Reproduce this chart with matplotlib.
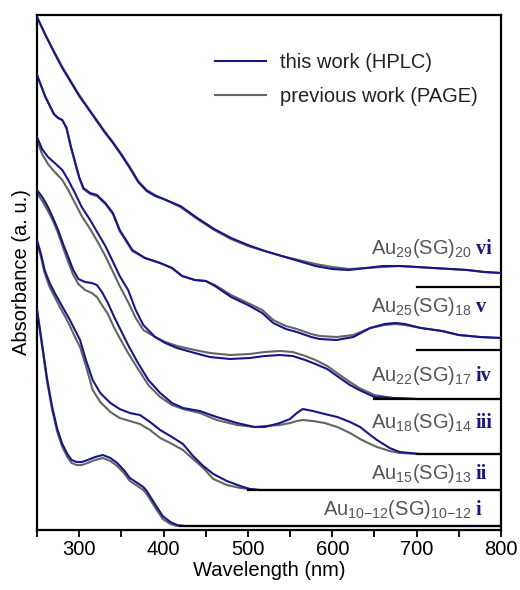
import matplotlib
matplotlib.use('Agg')
import matplotlib.pyplot as plt
from matplotlib.ticker import MultipleLocator

plt.rcParams['font.family'] = ['Liberation Sans', 'DejaVu Sans']
plt.rcParams['mathtext.fontset'] = 'custom'
plt.rcParams['mathtext.rm'] = 'Liberation Sans'
plt.rcParams['mathtext.it'] = 'Liberation Sans'
plt.rcParams['mathtext.default'] = 'regular'

BLUE = '#16168a'
GREY = '#646464'

# ---- spectra (absorbance above each baseline) ----
# vi  Au29(SG)20
wl_vi = [250, 260, 270, 280, 290, 300, 310, 320, 330, 340, 350, 360, 370, 380, 390, 400,
         420, 440, 460, 480, 500, 520, 540, 560, 580, 600, 620, 640, 660, 680, 700, 720,
         740, 760, 780, 800]
hplc_vi = [2.70, 2.52, 2.35, 2.19, 2.05, 1.91, 1.79, 1.67, 1.55, 1.44, 1.32, 1.19, 1.05,
           0.96, 0.91, 0.88, 0.81, 0.69, 0.58, 0.49, 0.42, 0.36, 0.31, 0.26, 0.21, 0.18,
           0.17, 0.19, 0.21, 0.21, 0.20, 0.19, 0.18, 0.17, 0.15, 0.14]
page_vi = [2.70, 2.52, 2.36, 2.20, 2.06, 1.92, 1.80, 1.68, 1.56, 1.45, 1.33, 1.20, 1.06,
           0.97, 0.92, 0.88, 0.80, 0.68, 0.57, 0.48, 0.41, 0.36, 0.31, 0.27, 0.23, 0.20,
           0.18, 0.19, 0.20, 0.21, 0.20, 0.19, 0.18, 0.17, 0.15, 0.14]

# v  Au25(SG)18
wl_v = [250, 260, 270, 275, 280, 285, 290, 300, 305, 313, 321, 331, 340, 348, 363, 378,
        396, 410, 422, 437, 450, 461, 480, 500, 517, 530, 545, 558, 575, 585, 605, 625,
        645, 662, 675, 686, 705, 730, 750, 775, 800]
hplc_v = [2.75, 2.53, 2.36, 2.32, 2.30, 2.22, 2.04, 1.73, 1.62, 1.57, 1.55, 1.47, 1.37,
          1.20, 1.00, 0.92, 0.87, 0.82, 0.74, 0.70, 0.69, 0.64, 0.53, 0.45, 0.37, 0.27,
          0.21, 0.18, 0.13, 0.11, 0.10, 0.13, 0.22, 0.26, 0.27, 0.26, 0.22, 0.19, 0.15,
          0.13, 0.12]
page_v = [2.75, 2.53, 2.36, 2.32, 2.30, 2.22, 2.03, 1.72, 1.61, 1.56, 1.54, 1.46, 1.36,
          1.19, 0.99, 0.92, 0.87, 0.82, 0.74, 0.70, 0.69, 0.65, 0.55, 0.47, 0.40, 0.30,
          0.24, 0.21, 0.16, 0.14, 0.13, 0.15, 0.22, 0.25, 0.26, 0.25, 0.22, 0.19, 0.15,
          0.13, 0.12]

# iv  Au22(SG)17
wl_iv = [250, 256, 263, 271, 280, 287, 295, 303, 313, 322, 331, 339, 348, 358, 367, 376,
         390, 402, 416, 437, 455, 479, 502, 520, 538, 553, 568, 580, 594, 609, 621, 632,
         650, 672, 700, 800]
hplc_iv = [2.62, 2.50, 2.42, 2.36, 2.29, 2.19, 2.06, 1.92, 1.79, 1.66, 1.53, 1.39, 1.23,
           1.09, 0.89, 0.74, 0.62, 0.56, 0.51, 0.46, 0.42, 0.40, 0.41, 0.43, 0.44, 0.43,
           0.39, 0.35, 0.30, 0.21, 0.14, 0.09, 0.02, 0.01, 0.00, 0.00]
page_iv = [2.59, 2.45, 2.35, 2.27, 2.19, 2.09, 1.96, 1.83, 1.70, 1.57, 1.43, 1.29, 1.13,
           0.97, 0.81, 0.69, 0.62, 0.57, 0.53, 0.49, 0.46, 0.44, 0.45, 0.47, 0.48, 0.47,
           0.43, 0.39, 0.33, 0.24, 0.17, 0.11, 0.04, 0.01, 0.00, 0.00]

# iii  Au18(SG)14
wl_iii = [250, 257, 263, 269, 275, 281, 287, 293, 299, 307, 315, 321, 327, 334, 341, 348,
          358, 369, 382, 396, 410, 423, 443, 463, 487, 508, 520, 538, 550, 558, 565, 577,
          591, 606, 621, 633, 645, 653, 668, 680, 704, 800]
hplc_iii = [2.64, 2.56, 2.47, 2.36, 2.24, 2.10, 1.97, 1.84, 1.75, 1.72, 1.71, 1.69, 1.62,
            1.51, 1.38, 1.26, 1.09, 0.92, 0.74, 0.61, 0.51, 0.46, 0.43, 0.37, 0.31, 0.27,
            0.27, 0.31, 0.35, 0.41, 0.45, 0.43, 0.40, 0.37, 0.32, 0.27, 0.19, 0.14, 0.06,
            0.02, 0.00, 0.00]
page_iii = [2.61, 2.52, 2.43, 2.33, 2.21, 2.06, 1.92, 1.79, 1.70, 1.64, 1.61, 1.57, 1.49,
            1.40, 1.27, 1.16, 1.01, 0.86, 0.69, 0.57, 0.49, 0.45, 0.41, 0.34, 0.29, 0.27,
            0.28, 0.29, 0.31, 0.33, 0.34, 0.33, 0.31, 0.27, 0.21, 0.15, 0.10, 0.07, 0.03,
            0.01, 0.00, 0.00]

# ii  Au15(SG)13
wl_ii = [250, 255, 259, 265, 271, 277, 283, 289, 295, 301, 308, 316, 325, 337, 348, 360,
         372, 384, 396, 408, 423, 435, 447, 459, 475, 491, 502, 514, 800]
hplc_ii = [2.50, 2.35, 2.20, 2.07, 1.97, 1.88, 1.79, 1.70, 1.60, 1.50, 1.30, 1.10, 0.97,
           0.87, 0.81, 0.77, 0.75, 0.68, 0.60, 0.54, 0.46, 0.34, 0.24, 0.16, 0.09, 0.04,
           0.01, 0.00, 0.00]
page_ii = [2.48, 2.32, 2.17, 2.03, 1.93, 1.83, 1.74, 1.64, 1.53, 1.43, 1.24, 1.00, 0.88,
           0.78, 0.72, 0.69, 0.66, 0.60, 0.52, 0.47, 0.40, 0.31, 0.22, 0.11, 0.05, 0.02,
           0.01, 0.00, 0.00]

# i  Au10-12(SG)10-12
wl_i = [250, 256, 262, 268, 274, 280, 286, 291, 297, 303, 310, 319, 328, 337, 345, 353,
        360, 369, 376, 380, 386, 392, 399, 408, 416, 425, 800]
hplc_i = [2.17, 1.82, 1.47, 1.19, 0.97, 0.82, 0.72, 0.66, 0.64, 0.64, 0.66, 0.69, 0.71,
          0.68, 0.63, 0.56, 0.48, 0.43, 0.39, 0.35, 0.27, 0.19, 0.10, 0.04, 0.01, 0.00, 0.00]
page_i = [2.15, 1.80, 1.44, 1.16, 0.94, 0.79, 0.69, 0.63, 0.61, 0.61, 0.63, 0.66, 0.68,
          0.65, 0.60, 0.53, 0.45, 0.40, 0.36, 0.32, 0.24, 0.16, 0.07, 0.02, 0.00, 0.00, 0.00]

# vertical offsets of each spectrum and where its baseline marker starts
offsets = [0.04, 0.40, 0.76, 1.31, 1.80, 2.43]
base_start = [420, 500, 700, 650, 700, 700]
formulas = ['Au$_{10{-}12}$(SG)$_{10{-}12}$', 'Au$_{15}$(SG)$_{13}$', 'Au$_{18}$(SG)$_{14}$',
            'Au$_{22}$(SG)$_{17}$', 'Au$_{25}$(SG)$_{18}$', 'Au$_{29}$(SG)$_{20}$']
numerals = ['i', 'ii', 'iii', 'iv', 'v', 'vi']
label_y = [0.15, 0.51, 1.02, 1.49, 2.18, 2.76]

spectra = [(wl_i, hplc_i, page_i), (wl_ii, hplc_ii, page_ii), (wl_iii, hplc_iii, page_iii),
           (wl_iv, hplc_iv, page_iv), (wl_v, hplc_v, page_v), (wl_vi, hplc_vi, page_vi)]

fig = plt.figure(figsize=(5.2, 5.9), dpi=100)
ax = fig.add_axes([37 / 520, 60 / 590, 464 / 520, 515 / 590])

for k, (wl, hplc, page) in enumerate(spectra):
    off = offsets[k]
    ax.plot(wl, [a + off for a in page], color=GREY, lw=1.5, zorder=2,
            solid_joinstyle='round', label='previous work (PAGE)' if k == 0 else None)
    ax.plot(wl, [a + off for a in hplc], color=BLUE, lw=1.5, zorder=3,
            solid_joinstyle='round', label='this work (HPLC)' if k == 0 else None)
    ax.plot([base_start[k], 800], [off, off], color='black', lw=1.6, zorder=4)
    ax.text(765.5, label_y[k], formulas[k], ha='right', va='baseline',
            fontsize=14.5, color='#555555')
    ax.text(770, label_y[k], numerals[k], ha='left', va='baseline', fontsize=14.5,
            color=BLUE, fontweight='bold', family='Liberation Serif')

ax.set_xlim(250, 800)
ax.set_ylim(0, 5.15)
ax.xaxis.set_major_locator(MultipleLocator(100))
ax.xaxis.set_minor_locator(MultipleLocator(50))
ax.tick_params(axis='x', which='both', direction='out', length=5, width=1.3,
               labelsize=14.5, pad=2)
ax.set_yticks([])
for s in ax.spines.values():
    s.set_linewidth(1.6)

ax.set_xlabel('Wavelength (nm)', fontsize=14.5, labelpad=2)
ax.set_ylabel('Absorbance (a. u.)', fontsize=14.5)
ax.yaxis.set_label_coords(-0.012, 0.5)

handles, labels = ax.get_legend_handles_labels()
ax.legend(handles[::-1], labels[::-1], loc='upper left', bbox_to_anchor=(0.384, 0.927),
          frameon=False, fontsize=14.5, handlelength=2.5, handletextpad=0.7,
          labelspacing=0.75, borderpad=0, borderaxespad=0, labelcolor='#222222')

fig.savefig('out.png', dpi=100, facecolor='white')
